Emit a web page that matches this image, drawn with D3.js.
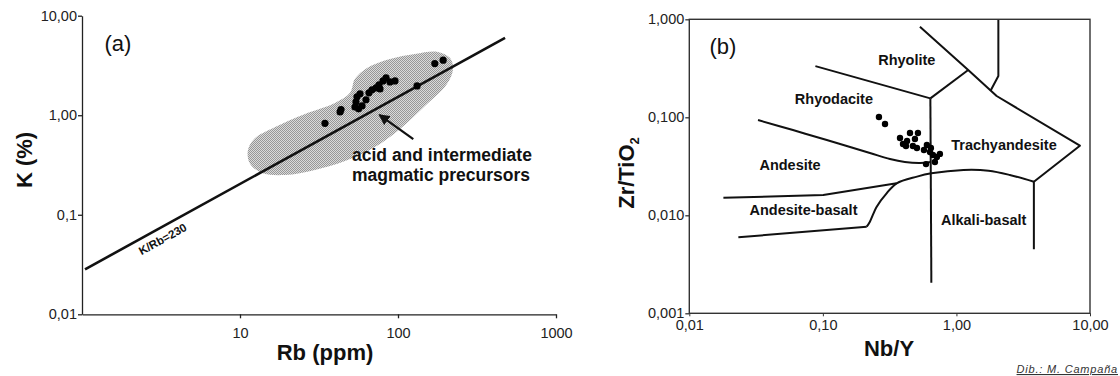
<!DOCTYPE html>
<html>
<head>
<meta charset="utf-8">
<script src="https://cdn.jsdelivr.net/npm/d3@7"></script>
<style>
  body { margin: 0; background: #fff; }
  svg { display: block; font-family: "Liberation Sans", Arial, sans-serif; }
  .tick text { fill: #222; }
</style>
</head>
<body>
<svg id="chart" width="1120" height="376"></svg>
<script>
// ---- panel (a) data: K (%) vs Rb (ppm)
const rbPpm = [34.5, 43.6, 43, 53.4, 54.2, 55, 57.5, 56.3, 59.2, 62.7, 65.5, 68.5, 72.6, 75.8, 80.4, 84, 89, 95.7, 76.9, 132, 171, 193];
const kPct  = [0.83, 1.14, 1.08, 1.21, 1.36, 1.53, 1.64, 1.16, 1.24, 1.43, 1.68, 1.80, 1.88, 2.02, 2.21, 2.37, 2.16, 2.21, 1.84, 1.97, 3.30, 3.57];

// K/Rb=230 reference line (end points as drawn)
const refRb = [1.045, 476];
const refK  = [0.0283, 5.98];

// outline of the shaded field "acid and intermediate magmatic precursors"
const fieldRb = [11.2, 12.3, 16.7, 25.8, 39.9, 49.7, 53.4, 63.7, 89, 128, 179, 213, 223, 204, 148, 103, 71.5, 46.2, 29.8, 19.3, 13.8, 11.6];
const fieldK  = [0.438, 0.578, 0.762, 1.03, 1.33, 1.68, 2.32, 2.99, 3.68, 4.13, 4.33, 3.77, 2.92, 2.06, 1.24, 0.728, 0.48, 0.347, 0.282, 0.251, 0.263, 0.323];

// arrow (tail -> tip)
const arrowRb = [125, 76.2];
const arrowK  = [0.574, 1.007];

const aTicksX = [10, 100, 1000];
const aTickLabelsX = ['10', '100', '1000'];
const aTicksY = [0.01, 0.1, 1, 10];
const aTickLabelsY = ['0,01', '0,1', '1,00', '10,00'];

// ---- panel (b) data: Zr/TiO2 vs Nb/Y
const nbY  = [0.263, 0.292, 0.378, 0.398, 0.427, 0.449, 0.515, 0.489, 0.472, 0.506, 0.571, 0.601, 0.634, 0.667, 0.752, 0.714, 0.690, 0.592, 0.644, 0.419];
const zrTi = [0.1007, 0.0855, 0.0615, 0.0534, 0.0573, 0.0692, 0.0692, 0.0601, 0.0509, 0.0486, 0.0463, 0.0521, 0.0442, 0.0412, 0.0423, 0.0394, 0.0350, 0.0333, 0.0486, 0.0509];

// field boundaries, [Nb/Y, Zr/TiO2]
const bRhyodaciteTop = [[0.0879, 0.333], [0.638, 0.156]];
const bVertical      = [[0.638, 0.156], [0.649, 0.00205]];
const bRhyoliteRight = [[0.638, 0.156], [1.225, 0.304]];
const bTrachyOuter   = [[0.533, 0.841], [1.225, 0.304], [2.00, 0.165], [8.40, 0.0513], [3.80, 0.0220], [3.80, 0.00450]];
const bComendite     = [[2.06, 1.0], [2.06, 0.264], [1.80, 0.187]];
const bAndesiteTop   = [[0.0327, 0.0937], [0.0597, 0.0741], [0.107, 0.0586], [0.225, 0.0432], [0.318, 0.0375], [0.411, 0.0350], [0.533, 0.0342], [0.644, 0.0350]];
const bAlkaliTop     = [[0.213, 0.00766], [0.225, 0.00861], [0.253, 0.01225], [0.300, 0.01675], [0.357, 0.0212], [0.507, 0.0248], [0.649, 0.0268], [1.13, 0.0290], [1.74, 0.0285], [2.51, 0.0258], [3.80, 0.0220]];
const bAndesiteLow   = [[0.0180, 0.0151], [0.1007, 0.0161], [0.357, 0.0212]];
const bBasaltLow     = [[0.0233, 0.00597], [0.213, 0.00766]];

const fieldNames = ['Rhyolite', 'Rhyodacite', 'Trachyandesite', 'Andesite', 'Andesite-basalt', 'Alkali-basalt'];
const fieldNbY   = [0.425, 0.121, 2.27, 0.0568, 0.0716, 1.60];
const fieldZr    = [0.385, 0.154, 0.0521, 0.0326, 0.0113, 0.00895];

const bTicksX = [0.01, 0.1, 1, 10];
const bTickLabelsX = ['0,01', '0,10', '1,00', '10,00'];
const bTicksY = [0.001, 0.01, 0.1, 1];
const bTickLabelsY = ['0,001', '0,010', '0,100', '1,000'];

const svg = d3.select('#chart');

// stipple pattern for the shaded field
const defs = svg.append('defs');
const pat = defs.append('pattern')
  .attr('id', 'stipple')
  .attr('width', 2).attr('height', 2)
  .attr('patternUnits', 'userSpaceOnUse');
pat.append('rect').attr('width', 2).attr('height', 2).attr('fill', '#dadada');
pat.append('rect').attr('width', 1).attr('height', 1).attr('fill', '#979797');
pat.append('rect').attr('x', 1).attr('y', 1).attr('width', 1).attr('height', 1).attr('fill', '#979797');

defs.append('marker')
  .attr('id', 'arrowhead')
  .attr('viewBox', '0 0 10 10')
  .attr('refX', 9).attr('refY', 5)
  .attr('markerWidth', 5).attr('markerHeight', 5)
  .attr('markerUnits', 'strokeWidth')
  .attr('orient', 'auto')
  .append('path')
  .attr('d', 'M0,0 L10,5 L0,10 z')
  .attr('fill', '#111');

function commaFormat(values, labels) {
  return d => labels[values.findIndex(v => Math.abs(v - d) / v < 1e-6)];
}

// ================= panel (a) =================
const xA = d3.scaleLog().domain([1, 1000]).range([82, 556]);
const yA = d3.scaleLog().domain([0.01, 10]).range([314.3, 15.7]);
const gA = svg.append('g');

// shaded field
const fieldPts = fieldRb.map((r, i) => [r, fieldK[i]]);
gA.append('path')
  .datum(fieldPts)
  .attr('d', d3.line().x(d => xA(d[0])).y(d => yA(d[1])).curve(d3.curveCatmullRomClosed))
  .attr('fill', 'url(#stipple)');

// reference line
const refPts = refRb.map((r, i) => [r, refK[i]]);
gA.append('path')
  .datum(refPts)
  .attr('d', d3.line().x(d => xA(d[0])).y(d => yA(d[1])))
  .attr('stroke', '#111')
  .attr('stroke-width', 2.6)
  .attr('fill', 'none');

// label along the line
const p0 = [xA(refRb[0]), yA(refK[0])];
const p1 = [xA(refRb[1]), yA(refK[1])];
const ang = Math.atan2(p1[1] - p0[1], p1[0] - p0[0]) * 180 / Math.PI;
const lx = xA(3.0);
const ly = p0[1] + (lx - p0[0]) * (p1[1] - p0[1]) / (p1[0] - p0[0]);
gA.append('text')
  .attr('transform', `translate(${lx},${ly}) rotate(${ang})`)
  .attr('y', 15)
  .attr('text-anchor', 'middle')
  .attr('font-size', 11.5)
  .attr('font-weight', 'bold')
  .attr('fill', '#111')
  .text('K/Rb=230');

// data points
gA.selectAll('.dotA')
  .data(rbPpm.map((r, i) => [r, kPct[i]]))
  .enter().append('circle')
  .attr('class', 'dotA')
  .attr('cx', d => xA(d[0]))
  .attr('cy', d => yA(d[1]))
  .attr('r', 3.6)
  .attr('fill', '#000');

// arrow
gA.append('line')
  .attr('x1', xA(arrowRb[0])).attr('y1', yA(arrowK[0]))
  .attr('x2', xA(arrowRb[1])).attr('y2', yA(arrowK[1]))
  .attr('stroke', '#111')
  .attr('stroke-width', 2.2)
  .attr('marker-end', 'url(#arrowhead)');

gA.append('text')
  .attr('x', 352).attr('y', 161)
  .attr('font-size', 17.5).attr('font-weight', 'bold').attr('fill', '#111')
  .text('acid and intermediate');
gA.append('text')
  .attr('x', 352).attr('y', 181)
  .attr('font-size', 17.5).attr('font-weight', 'bold').attr('fill', '#111')
  .text('magmatic precursors');

// axes
gA.append('g')
  .attr('transform', 'translate(0,314.3)')
  .call(d3.axisBottom(xA).tickValues(aTicksX).tickFormat(commaFormat(aTicksX, aTickLabelsX)).tickSize(4).tickSizeOuter(0).tickPadding(9))
  .call(g => g.selectAll('text').attr('font-size', 14.5).attr('font-family', '"Liberation Sans", Arial, sans-serif'))
  .call(g => g.selectAll('line, path').attr('stroke', '#222').attr('stroke-width', 1.3));

gA.append('g')
  .attr('transform', 'translate(82,0)')
  .call(d3.axisLeft(yA).tickValues(aTicksY).tickFormat(commaFormat(aTicksY, aTickLabelsY)).tickSize(4).tickSizeOuter(0).tickPadding(1))
  .call(g => g.selectAll('text').attr('font-size', 14.5).attr('font-family', '"Liberation Sans", Arial, sans-serif'))
  .call(g => g.selectAll('line, path').attr('stroke', '#222').attr('stroke-width', 1.3));

gA.append('text')
  .attr('x', 118).attr('y', 51)
  .attr('text-anchor', 'middle')
  .attr('font-size', 22).attr('fill', '#111')
  .text('(a)');

gA.append('text')
  .attr('x', 325).attr('y', 360)
  .attr('text-anchor', 'middle')
  .attr('font-size', 22).attr('font-weight', 'bold').attr('fill', '#111')
  .text('Rb (ppm)');

gA.append('text')
  .attr('transform', 'translate(32,160) rotate(-90)')
  .attr('text-anchor', 'middle')
  .attr('font-size', 22).attr('font-weight', 'bold').attr('fill', '#111')
  .text('K (%)');

// ================= panel (b) =================
const xB = d3.scaleLog().domain([0.01, 10]).range([689.3, 1090]);
const yB = d3.scaleLog().domain([0.001, 1]).range([313.3, 19.3]);
const gB = svg.append('g');

const lineB = d3.line().x(d => xB(d[0])).y(d => yB(d[1]));
const lineBCurve = d3.line().x(d => xB(d[0])).y(d => yB(d[1])).curve(d3.curveCatmullRom);

[bRhyodaciteTop, bVertical, bRhyoliteRight, bTrachyOuter, bComendite, bAndesiteLow, bBasaltLow].forEach(b => {
  gB.append('path')
    .datum(b)
    .attr('d', lineB)
    .attr('fill', 'none')
    .attr('stroke', '#111')
    .attr('stroke-width', 2)
    .attr('stroke-linejoin', 'round');
});
[bAndesiteTop, bAlkaliTop].forEach(b => {
  gB.append('path')
    .datum(b)
    .attr('d', lineBCurve)
    .attr('fill', 'none')
    .attr('stroke', '#111')
    .attr('stroke-width', 2);
});

gB.selectAll('.dotB')
  .data(nbY.map((v, i) => [v, zrTi[i]]))
  .enter().append('circle')
  .attr('class', 'dotB')
  .attr('cx', d => xB(d[0]))
  .attr('cy', d => yB(d[1]))
  .attr('r', 3.2)
  .attr('fill', '#000');

gB.selectAll('.fieldName')
  .data(fieldNames)
  .enter().append('text')
  .attr('class', 'fieldName')
  .attr('x', (d, i) => xB(fieldNbY[i]))
  .attr('y', (d, i) => yB(fieldZr[i]))
  .attr('dy', '0.35em')
  .attr('text-anchor', 'middle')
  .attr('font-size', 14.5).attr('font-weight', 'bold').attr('fill', '#111')
  .text(d => d);

// frame
gB.append('rect')
  .attr('x', xB(0.01)).attr('y', yB(1))
  .attr('width', xB(10) - xB(0.01)).attr('height', yB(0.001) - yB(1))
  .attr('fill', 'none').attr('stroke', '#333').attr('stroke-width', 1.4);

gB.append('g')
  .attr('transform', 'translate(0,313.3)')
  .call(d3.axisBottom(xB).tickValues(bTicksX).tickFormat(commaFormat(bTicksX, bTickLabelsX)).tickSize(3).tickSizeOuter(0).tickPadding(3))
  .call(g => g.select('.domain').remove())
  .call(g => g.selectAll('text').attr('font-size', 14.5).attr('font-family', '"Liberation Sans", Arial, sans-serif'))
  .call(g => g.selectAll('line').attr('stroke', '#333'));

gB.append('g')
  .attr('transform', 'translate(689.3,0)')
  .call(d3.axisLeft(yB).tickValues(bTicksY).tickFormat(commaFormat(bTicksY, bTickLabelsY)).tickSize(4).tickSizeOuter(0).tickPadding(1))
  .call(g => g.select('.domain').remove())
  .call(g => g.selectAll('text').attr('font-size', 14.5).attr('font-family', '"Liberation Sans", Arial, sans-serif'))
  .call(g => g.selectAll('line').attr('stroke', '#333').attr('stroke-width', 1.3));

gB.append('text')
  .attr('x', 723).attr('y', 54)
  .attr('text-anchor', 'middle')
  .attr('font-size', 22).attr('fill', '#111')
  .text('(b)');

gB.append('text')
  .attr('x', 889).attr('y', 356)
  .attr('text-anchor', 'middle')
  .attr('font-size', 22).attr('font-weight', 'bold').attr('fill', '#111')
  .text('Nb/Y');

const zlab = gB.append('text')
  .attr('transform', 'translate(634,173) rotate(-90)')
  .attr('text-anchor', 'middle')
  .attr('font-size', 22).attr('font-weight', 'bold').attr('fill', '#111');
zlab.append('tspan').text('Zr/TiO');
zlab.append('tspan').attr('font-size', 13).attr('dy', 5).text('2');

svg.append('text')
  .attr('x', 1118).attr('y', 373)
  .attr('text-anchor', 'end')
  .attr('font-size', 11).attr('font-style', 'italic').attr('fill', '#333')
  .attr('letter-spacing', 0.8)
  .attr('text-decoration', 'underline')
  .text('Dib.: M. Campaña');
</script>
</body>
</html>
